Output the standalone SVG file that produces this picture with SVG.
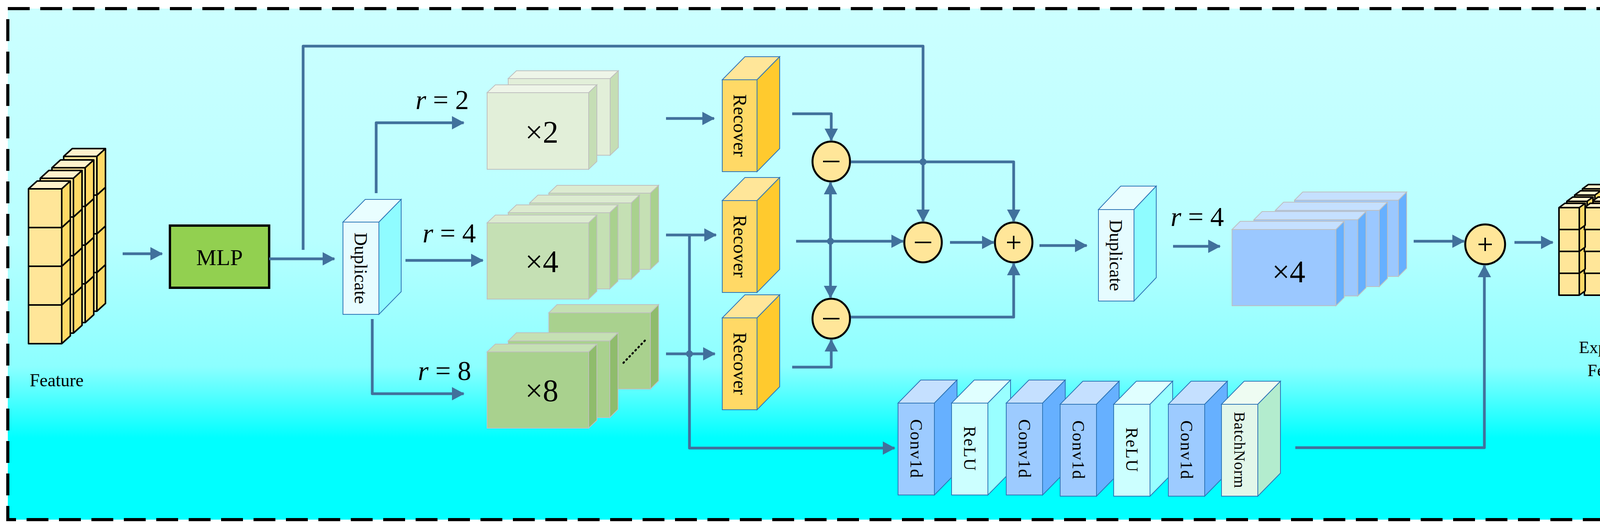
<svg xmlns="http://www.w3.org/2000/svg" xmlns:xlink="http://www.w3.org/1999/xlink" width="4382" height="1353" viewBox="0 0 4382 1353">
<defs>
<linearGradient id="bg" x1="0" y1="0" x2="0" y2="1">
<stop offset="0" stop-color="#ccffff"/><stop offset="0.45" stop-color="#b8ffff"/><stop offset="0.7" stop-color="#8cffff"/><stop offset="0.84" stop-color="#00ffff"/><stop offset="1" stop-color="#00ffff"/>
</linearGradient>
<marker id="ah" markerUnits="userSpaceOnUse" markerWidth="36" markerHeight="36" refX="30" refY="17" orient="auto"><path d="M0,0 L32,17 L0,34 z" fill="#41719c"/></marker>
<g id="fc"><rect x="0" y="0" width="85" height="99" fill="#ffe699"/><polygon points="0,0 22,-20 107,-20 85,0" fill="#fff2cc"/><polygon points="85,0 107,-20 107,79 85,99" fill="#ffd966"/><path d="M0,0 H85 V99 H0 Z M0,0 L22,-20 H107 L85,0 M107,-20 V79 L85,99" fill="none" stroke="#000" stroke-width="4" stroke-linejoin="round"/></g>
<g id="ec"><rect x="0" y="0" width="52" height="56" fill="#ffe699"/><polygon points="0,0 15,-11 67,-11 52,0" fill="#fff2cc"/><polygon points="52,0 67,-11 67,45 52,56" fill="#ffd966"/><path d="M0,0 H52 V56 H0 Z M0,0 L15,-11 H67 L52,0 M67,-11 V45 L52,56" fill="none" stroke="#000" stroke-width="4" stroke-linejoin="round"/></g>
<g id="ecl"><use xlink:href="#ec" x="4186" y="699"/><use xlink:href="#ec" x="4121" y="699"/><use xlink:href="#ec" x="4056" y="699"/><use xlink:href="#ec" x="3991" y="699"/><use xlink:href="#ec" x="4186" y="643"/><use xlink:href="#ec" x="4121" y="643"/><use xlink:href="#ec" x="4056" y="643"/><use xlink:href="#ec" x="3991" y="643"/><use xlink:href="#ec" x="4186" y="587"/><use xlink:href="#ec" x="4121" y="587"/><use xlink:href="#ec" x="4056" y="587"/><use xlink:href="#ec" x="3991" y="587"/><use xlink:href="#ec" x="4186" y="531"/><use xlink:href="#ec" x="4121" y="531"/><use xlink:href="#ec" x="4056" y="531"/><use xlink:href="#ec" x="3991" y="531"/></g>
</defs>
<style>
.ln{fill:none;stroke:#41719c;stroke-width:7;stroke-linejoin:round}
.t{font-family:"Liberation Serif",serif;fill:#000}
.thin{stroke:#2e75b6;stroke-width:2}
.gs{stroke:#bfbfbf;stroke-width:2}
.op{fill:#ffe699;stroke:#000;stroke-width:5}
.sg{stroke:#000;stroke-width:4}
.rt{font-family:"Liberation Serif",serif;fill:#000;text-anchor:middle;dominant-baseline:central}
</style>
<rect x="20" y="22" width="4337" height="1307" fill="url(#bg)"/>
<rect x="20" y="22" width="4337" height="1307" fill="none" stroke="#000" stroke-width="8" stroke-dasharray="56 27"/>

<g id="feature">
<use xlink:href="#fc" x="163" y="697"/><use xlink:href="#fc" x="163" y="598"/><use xlink:href="#fc" x="163" y="499"/><use xlink:href="#fc" x="163" y="400"/>
<use xlink:href="#fc" x="133" y="726"/><use xlink:href="#fc" x="133" y="627"/><use xlink:href="#fc" x="133" y="528"/><use xlink:href="#fc" x="133" y="429"/>
<use xlink:href="#fc" x="103" y="753"/><use xlink:href="#fc" x="103" y="654"/><use xlink:href="#fc" x="103" y="555"/><use xlink:href="#fc" x="103" y="456"/>
<use xlink:href="#fc" x="73" y="780"/><use xlink:href="#fc" x="73" y="681"/><use xlink:href="#fc" x="73" y="582"/><use xlink:href="#fc" x="73" y="483"/>
<text class="t" x="145" y="988" font-size="46" text-anchor="middle">Feature</text>
</g>

<g id="mlp"><rect x="435" y="577" width="254" height="159" fill="#92d050" stroke="#000" stroke-width="6"/><text class="t" x="562" y="678" font-size="58" text-anchor="middle">MLP</text></g>

<g id="dup1"><rect x="878" y="568" width="92" height="236" fill="#e6fcff" class="thin"/><polygon points="878,568 935,510 1027,510 970,568" fill="#e9feff" class="thin"/><polygon points="970,568 1027,510 1027,746 970,804" fill="#8ffcff" class="thin"/>
<text class="rt" transform="translate(924,686) rotate(90)" font-size="47">Duplicate</text></g>

<g id="x2">
<rect x="1301" y="201" width="261" height="196" fill="#e2efd9" class="gs"/><polygon points="1301,201 1322,181 1583,181 1562,201" fill="#eef5e8" class="gs"/><polygon points="1562,201 1583,181 1583,377 1562,397" fill="#c5deb5" class="gs"/>
<rect x="1247" y="237" width="260" height="196" fill="#e2efd9" class="gs"/><polygon points="1247,237 1268,217 1528,217 1507,237" fill="#eef5e8" class="gs"/><polygon points="1507,237 1528,217 1528,413 1507,433" fill="#c5deb5" class="gs"/>
<text class="t" x="1387" y="365" font-size="80" text-anchor="middle">×2</text>
<text class="t" x="1132" y="279" font-size="70" text-anchor="middle"><tspan font-style="italic">r</tspan> = 2</text>
</g>

<g id="x4g">
<rect x="1405" y="494" width="260" height="195" fill="#c5e0b4" class="gs"/><polygon points="1405,494 1426,474 1686,474 1665,494" fill="#dcebd0" class="gs"/><polygon points="1665,494 1686,474 1686,669 1665,689" fill="#a9d18e" class="gs"/>
<rect x="1356" y="519" width="260" height="195" fill="#c5e0b4" class="gs"/><polygon points="1356,519 1377,499 1637,499 1616,519" fill="#dcebd0" class="gs"/><polygon points="1616,519 1637,499 1637,694 1616,714" fill="#a9d18e" class="gs"/>
<rect x="1301" y="544" width="260" height="195" fill="#c5e0b4" class="gs"/><polygon points="1301,544 1322,524 1582,524 1561,544" fill="#dcebd0" class="gs"/><polygon points="1561,544 1582,524 1582,719 1561,739" fill="#a9d18e" class="gs"/>
<rect x="1247" y="570" width="260" height="195" fill="#c5e0b4" class="gs"/><polygon points="1247,570 1268,550 1528,550 1507,570" fill="#dcebd0" class="gs"/><polygon points="1507,570 1528,550 1528,745 1507,765" fill="#a9d18e" class="gs"/>
<text class="t" x="1387" y="696" font-size="80" text-anchor="middle">×4</text>
<text class="t" x="1150" y="620" font-size="70" text-anchor="middle"><tspan font-style="italic">r</tspan> = 4</text>
</g>

<g id="x8">
<rect x="1405" y="800" width="260" height="195" fill="#a9d18e" class="gs"/><polygon points="1405,800 1426,779 1686,779 1665,800" fill="#c5e0b4" class="gs"/><polygon points="1665,800 1686,779 1686,974 1665,995" fill="#8fbc6c" class="gs"/>
<rect x="1301" y="872" width="260" height="196" fill="#a9d18e" class="gs"/><polygon points="1301,872 1322,851 1582,851 1561,872" fill="#c5e0b4" class="gs"/><polygon points="1561,872 1582,851 1582,1047 1561,1068" fill="#8fbc6c" class="gs"/>
<rect x="1247" y="900" width="260" height="195" fill="#a9d18e" class="gs"/><polygon points="1247,900 1268,880 1528,880 1507,900" fill="#c5e0b4" class="gs"/><polygon points="1507,900 1528,880 1528,1075 1507,1095" fill="#8fbc6c" class="gs"/>
<path d="M1596,928 L1652,870" stroke="#000" stroke-width="5" stroke-dasharray="2 9" stroke-linecap="round"/>
<text class="t" x="1387" y="1026" font-size="80" text-anchor="middle">×8</text>
<text class="t" x="1138" y="972" font-size="70" text-anchor="middle"><tspan font-style="italic">r</tspan> = 8</text>
</g>

<g id="recover1"><rect x="1849" y="204" width="89" height="235" fill="#ffd966" class="thin"/><polygon points="1849,204 1907,145 1996,145 1938,204" fill="#ffe699" class="thin"/><polygon points="1938,204 1996,145 1996,380 1938,439" fill="#ffca2e" class="thin"/><text class="rt" transform="translate(1894,321) rotate(90)" font-size="48">Recover</text></g>
<g id="recover2"><rect x="1849" y="513" width="89" height="235" fill="#ffd966" class="thin"/><polygon points="1849,513 1907,454 1996,454 1938,513" fill="#ffe699" class="thin"/><polygon points="1938,513 1996,454 1996,689 1938,748" fill="#ffca2e" class="thin"/><text class="rt" transform="translate(1894,630) rotate(90)" font-size="48">Recover</text></g>
<g id="recover3"><rect x="1849" y="813" width="89" height="235" fill="#ffd966" class="thin"/><polygon points="1849,813 1907,754 1996,754 1938,813" fill="#ffe699" class="thin"/><polygon points="1938,813 1996,754 1996,989 1938,1048" fill="#ffca2e" class="thin"/><text class="rt" transform="translate(1894,930) rotate(90)" font-size="48">Recover</text></g>

<g id="minus1"><ellipse cx="2128" cy="413" rx="48" ry="51" class="op"/><line x1="2107" y1="413" x2="2149" y2="413" class="sg"/></g>
<g id="minus2"><ellipse cx="2363" cy="620" rx="48" ry="51" class="op"/><line x1="2342" y1="620" x2="2384" y2="620" class="sg"/></g>
<g id="minus3"><ellipse cx="2128" cy="815" rx="48" ry="51" class="op"/><line x1="2107" y1="815" x2="2149" y2="815" class="sg"/></g>
<g id="plus1"><ellipse cx="2595" cy="620" rx="48" ry="51" class="op"/><path d="M2578,620 H2612 M2595,603 V637" class="sg"/></g>

<g id="dup2"><rect x="2812" y="536" width="91" height="234" fill="#e6fcff" class="thin"/><polygon points="2812,536 2869,476 2960,476 2903,536" fill="#e9feff" class="thin"/><polygon points="2903,536 2960,476 2960,710 2903,770" fill="#8ffcff" class="thin"/>
<text class="rt" transform="translate(2857,653) rotate(90)" font-size="47">Duplicate</text>
<text class="t" x="3065" y="578" font-size="70" text-anchor="middle"><tspan font-style="italic">r</tspan> = 4</text></g>

<g id="x4b">
<rect x="3314" y="512" width="266" height="195" fill="#9bc8ff" class="gs"/><polygon points="3314,512 3335,491 3601,491 3580,512" fill="#c5e0ff" class="gs"/><polygon points="3580,512 3601,491 3601,686 3580,707" fill="#66b0ff" class="gs"/>
<rect x="3265" y="538" width="266" height="195" fill="#9bc8ff" class="gs"/><polygon points="3265,538 3286,517 3552,517 3531,538" fill="#c5e0ff" class="gs"/><polygon points="3531,538 3552,517 3552,712 3531,733" fill="#66b0ff" class="gs"/>
<rect x="3210" y="562" width="266" height="195" fill="#9bc8ff" class="gs"/><polygon points="3210,562 3231,541 3497,541 3476,562" fill="#c5e0ff" class="gs"/><polygon points="3476,562 3497,541 3497,736 3476,757" fill="#66b0ff" class="gs"/>
<rect x="3154" y="587" width="266" height="195" fill="#9bc8ff" class="gs"/><polygon points="3154,587 3175,566 3441,566 3420,587" fill="#c5e0ff" class="gs"/><polygon points="3420,587 3441,566 3441,761 3420,782" fill="#66b0ff" class="gs"/>
<text class="t" x="3299" y="722" font-size="80" text-anchor="middle">×4</text>
</g>

<g id="plus2"><ellipse cx="3802" cy="625" rx="51" ry="51" class="op"/><path d="M3785,625 H3819 M3802,608 V642" class="sg"/></g>

<g id="convs">
<g id="conv1"><rect x="2299" y="1031" width="93" height="235" fill="#9dcbff" class="thin"/><polygon points="2299,1031 2357,972 2450,972 2392,1031" fill="#c5e0ff" class="thin"/><polygon points="2392,1031 2450,972 2450,1207 2392,1266" fill="#66b0ff" class="thin"/><text class="rt" transform="translate(2345,1148) rotate(90)" font-size="44" letter-spacing="2">Conv1d</text></g>
<g id="relu1"><rect x="2436" y="1031" width="93" height="235" fill="#ccffff" class="thin"/><polygon points="2436,1031 2494,972 2587,972 2529,1031" fill="#e0ffff" class="thin"/><polygon points="2529,1031 2587,972 2587,1207 2529,1266" fill="#99ffff" class="thin"/><text class="rt" transform="translate(2482,1148) rotate(90)" font-size="44" letter-spacing="2">ReLU</text></g>
<g id="conv2"><rect x="2576" y="1031" width="93" height="235" fill="#9dcbff" class="thin"/><polygon points="2576,1031 2634,972 2727,972 2669,1031" fill="#c5e0ff" class="thin"/><polygon points="2669,1031 2727,972 2727,1207 2669,1266" fill="#66b0ff" class="thin"/><text class="rt" transform="translate(2622,1148) rotate(90)" font-size="44" letter-spacing="2">Conv1d</text></g>
<g id="conv3"><rect x="2714" y="1034" width="93" height="235" fill="#9dcbff" class="thin"/><polygon points="2714,1034 2772,975 2865,975 2807,1034" fill="#c5e0ff" class="thin"/><polygon points="2807,1034 2865,975 2865,1210 2807,1269" fill="#66b0ff" class="thin"/><text class="rt" transform="translate(2760,1151) rotate(90)" font-size="44" letter-spacing="2">Conv1d</text></g>
<g id="relu2"><rect x="2851" y="1034" width="93" height="235" fill="#ccffff" class="thin"/><polygon points="2851,1034 2909,975 3002,975 2944,1034" fill="#e0ffff" class="thin"/><polygon points="2944,1034 3002,975 3002,1210 2944,1269" fill="#99ffff" class="thin"/><text class="rt" transform="translate(2897,1151) rotate(90)" font-size="44" letter-spacing="2">ReLU</text></g>
<g id="conv4"><rect x="2991" y="1034" width="93" height="235" fill="#9dcbff" class="thin"/><polygon points="2991,1034 3049,975 3142,975 3084,1034" fill="#c5e0ff" class="thin"/><polygon points="3084,1034 3142,975 3142,1210 3084,1269" fill="#66b0ff" class="thin"/><text class="rt" transform="translate(3037,1151) rotate(90)" font-size="44" letter-spacing="2">Conv1d</text></g>
<g id="bn"><rect x="3127" y="1034" width="93" height="235" fill="#e2f7ea" class="thin"/><polygon points="3127,1034 3185,975 3278,975 3220,1034" fill="#eefcf2" class="thin"/><polygon points="3220,1034 3278,975 3278,1210 3220,1269" fill="#b3ecce" class="thin"/><text class="rt" transform="translate(3173,1151) rotate(90)" font-size="40" letter-spacing="1">BatchNorm</text></g>
</g>

<g id="expanded">
<use xlink:href="#ecl" transform="translate(60,-48)"/>
<use xlink:href="#ecl" transform="translate(40,-32)"/>
<use xlink:href="#ecl" transform="translate(20,-16)"/>
<use xlink:href="#ecl"/>
<text class="t" x="4130" y="903" font-size="44" text-anchor="middle">Expanded</text>
<text class="t" x="4130" y="962" font-size="44" text-anchor="middle">Feature</text>
</g>

<g id="connectors">
<path class="ln" marker-end="url(#ah)" d="M314,649 H415"/>
<path class="ln" marker-end="url(#ah)" d="M689,662 H856"/>
<path class="ln" marker-end="url(#ah)" d="M776,639 V118 H2363 V566"/>
<path class="ln" marker-end="url(#ah)" d="M963,494 V314 H1187"/>
<path class="ln" marker-end="url(#ah)" d="M1038,666 H1236"/>
<path class="ln" marker-end="url(#ah)" d="M953,816 V1007 H1187"/>
<path class="ln" marker-end="url(#ah)" d="M1705,303 H1828"/>
<path class="ln" marker-end="url(#ah)" d="M1705,601 H1833"/>
<path class="ln" marker-end="url(#ah)" d="M1765,601 V1146 H2290"/>
<path class="ln" marker-end="url(#ah)" d="M1705,905 H1830"/>
<path class="ln" marker-end="url(#ah)" d="M2028,291 H2128 V359"/>
<path class="ln" marker-end="url(#ah)" d="M2038,617 H2312"/>
<path class="ln" marker-end="url(#ah)" d="M2126,617 V467"/>
<path class="ln" marker-end="url(#ah)" d="M2126,617 V761"/>
<path class="ln" marker-end="url(#ah)" d="M2028,939 H2128 V869"/>
<path class="ln" marker-end="url(#ah)" d="M2178,414 H2595 V566"/>
<path class="ln" marker-end="url(#ah)" d="M2432,620 H2544"/>
<path class="ln" marker-end="url(#ah)" d="M2178,811 H2595 V674"/>
<path class="ln" marker-end="url(#ah)" d="M2661,628 H2782"/>
<path class="ln" marker-end="url(#ah)" d="M3003,630 H3123"/>
<path class="ln" marker-end="url(#ah)" d="M3619,617 H3748"/>
<path class="ln" marker-end="url(#ah)" d="M3316,1145 H3800 V679"/>
<path class="ln" marker-end="url(#ah)" d="M3877,620 H3975"/>
<circle cx="2363" cy="414" r="9" fill="#41719c"/>
<circle cx="2126" cy="617" r="9" fill="#41719c"/>
<circle cx="1765" cy="905" r="9" fill="#41719c"/>
</g>
</svg>
